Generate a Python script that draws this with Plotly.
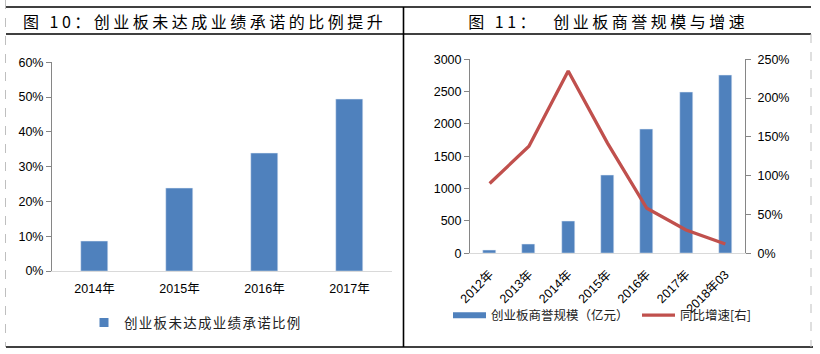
import plotly.graph_objects as go

# ---------------- data ----------------
left_categories = ["2014年", "2015年", "2016年", "2017年"]
left_ratio = [0.086, 0.239, 0.339, 0.494]
left_series_name = "创业板未达成业绩承诺比例"

right_categories = ["2012年", "2013年", "2014年", "2015年", "2016年", "2017年", "2018年03"]
goodwill = [50, 145, 500, 1210, 1920, 2490, 2760]
growth = [0.90, 1.38, 2.35, 1.42, 0.58, 0.30, 0.12]
bar_name = "创业板商誉规模（亿元）"
line_name = "同比增速[右]"

left_title = "图 10：创业板未达成业绩承诺的比例提升"
right_title = "图 11：  创业板商誉规模与增速"

# ---------------- layout helpers ----------------
W, H = 820, 354
def px(x):
    return x / W
def py(y):
    return 1 - y / H

BLUE = "#4F81BD"
RED = "#C0504D"
AXIS = "#868686"
LIGHT = "#D9D9D9"
FONT = "Liberation Sans, Arial, Noto Sans CJK SC, sans-serif"
CJK = "Noto Sans CJK SC, sans-serif"

fig = go.Figure()

# left chart bars
fig.add_trace(go.Bar(x=left_categories, y=left_ratio, marker_color=BLUE, width=0.31,
                     name=left_series_name, showlegend=False, xaxis="x", yaxis="y"))
fig.add_trace(go.Scatter(x=[None], y=[None], mode="markers", name=left_series_name,
                         marker=dict(symbol="square", size=9, color=BLUE),
                         xaxis="x", yaxis="y", legend="legend"))

# right chart
fig.add_trace(go.Bar(x=right_categories, y=goodwill, marker_color=BLUE, width=0.33,
                     name=bar_name, showlegend=False, xaxis="x2", yaxis="y2"))
fig.add_trace(go.Scatter(x=right_categories, y=growth, mode="lines", name=line_name,
                         line=dict(color=RED, width=3.3), xaxis="x2", yaxis="y3",
                         legend="legend3"))
fig.add_trace(go.Scatter(x=[None], y=[None], mode="lines", name=bar_name,
                         line=dict(color=BLUE, width=6), xaxis="x2", yaxis="y2",
                         legend="legend2"))

tickfont = dict(family=FONT, size=12.5, color="#000000")

shapes = []
def line(x0, y0, x1, y1, color="#000000", width=1.6, dash="solid"):
    shapes.append(dict(type="line", xref="paper", yref="paper",
                       x0=px(x0), y0=py(y0), x1=px(x1), y1=py(y1),
                       line=dict(color=color, width=width, dash=dash)))

line(6, 7, 811, 7)
line(6, 34, 811, 34)
line(6, 347, 813, 347)
line(403.5, 7, 403.5, 347)
line(5.5, 0, 5.5, 347, color="#BFBFBF", width=1, dash="dash")
line(811, 34, 811, 347, color="#BFBFBF", width=1, dash="dash")

fig.update_layout(
    width=W, height=H,
    margin=dict(l=0, r=0, t=0, b=0),
    paper_bgcolor="white", plot_bgcolor="white",
    shapes=shapes,
    bargap=0,
    xaxis=dict(domain=[px(52), px(392)], showline=True, linecolor=LIGHT, linewidth=1,
               ticks="", tickfont=tickfont, ticklabelstandoff=6, automargin=False,
               showgrid=False, fixedrange=True),
    yaxis=dict(domain=[py(271), py(62.3)], range=[0, 0.6], dtick=0.1, tickformat=".0%",
               showline=True, linecolor=AXIS, linewidth=1, ticks="outside", ticklen=5,
               tickcolor=AXIS, tickfont=tickfont, showgrid=False, zeroline=False,
               automargin=False),
    xaxis2=dict(domain=[px(470), px(745)], anchor="y2", showline=True, linecolor=LIGHT,
                linewidth=1, ticks="", tickangle=-45, ticklabelstandoff=8,
                tickfont=dict(family=FONT, size=12.5, color="#000000"),
                automargin=False, showgrid=False),
    yaxis2=dict(domain=[py(253.3), py(59.3)], anchor="x2", range=[0, 3000], dtick=500,
                showline=True, linecolor=AXIS, linewidth=1, ticks="outside", ticklen=5,
                tickcolor=AXIS, tickfont=tickfont, showgrid=False, zeroline=False,
                automargin=False),
    yaxis3=dict(overlaying="y2", anchor="x2", side="right", range=[0, 2.5], dtick=0.5,
                tickformat=".0%", showline=True, linecolor=AXIS, linewidth=1,
                ticks="outside", ticklen=5, tickcolor=AXIS, tickfont=tickfont,
                ticklabelstandoff=4, showgrid=False, zeroline=False, automargin=False),
    legend=dict(x=px(84), y=py(322.7), xanchor="left", yanchor="middle",
                font=dict(family=CJK, size=13.5, color="#222222"), bgcolor="rgba(0,0,0,0)"),
    legend2=dict(x=px(448), y=py(315.5), xanchor="left", yanchor="middle", itemwidth=33,
                 font=dict(family=CJK, size=12.5, color="#222222"), bgcolor="rgba(0,0,0,0)"),
    legend3=dict(x=px(637), y=py(315.5), xanchor="left", yanchor="middle", itemwidth=33,
                 font=dict(family=CJK, size=12.5, color="#222222"), bgcolor="rgba(0,0,0,0)"),
    annotations=[
        dict(text=left_title, x=px(204), y=py(21), xref="paper", yref="paper",
             showarrow=False, xanchor="center", yanchor="middle",
             font=dict(family=CJK, size=16, color="#000000")),
        dict(text=right_title, x=px(608), y=py(21), xref="paper", yref="paper",
             showarrow=False, xanchor="center", yanchor="middle",
             font=dict(family=CJK, size=16, color="#000000")),
    ],
)

post = """
var gd = document.getElementById('{plot_id}');
gd.querySelectorAll('.annotation-text').forEach(function(t){ t.style.letterSpacing = '3.5px'; });
gd.querySelectorAll('.scrollbox').forEach(function(s){ s.removeAttribute('clip-path'); });
gd.querySelectorAll('g.legend .legendtext').forEach(function(t){ t.style.letterSpacing = '1.3px'; });
gd.querySelectorAll('g.legend2 .legendtext, g.legend3 .legendtext').forEach(function(t){ t.style.letterSpacing = '1.8px'; });
"""
fig.write_html("out.html", post_script=post, config={"displayModeBar": False})
